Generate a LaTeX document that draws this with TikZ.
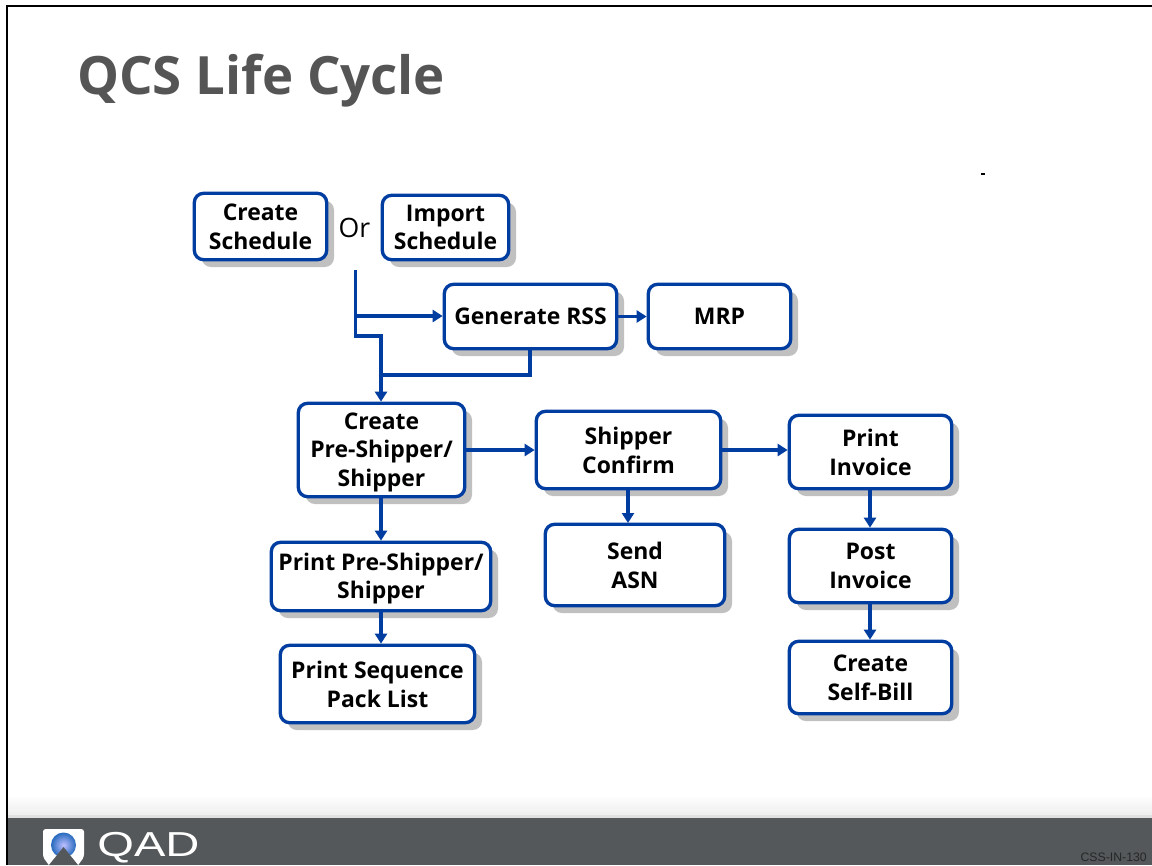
\documentclass[tikz,border=0pt]{standalone}
\usepackage{fontspec}
\setmainfont{Open Sans}
\newfontfamily\codefont{Liberation Sans}
\usetikzlibrary{shadows,arrows.meta}
\definecolor{qblue}{HTML}{003DA0}
\definecolor{qbar}{HTML}{54585A}
\definecolor{qshadow}{HTML}{C0C0C0}
\definecolor{qtitle}{HTML}{555555}
\tikzset{
  flowbox/.style={draw=qblue,fill=white,line width=2.5pt,rounded corners=7pt,align=center,
    inner sep=0pt,outer sep=1.25pt,text=black,
    font=\fontsize{17.2}{21.6}\selectfont\bfseries,
    drop shadow={shadow xshift=5.5pt,shadow yshift=-5.5pt,fill=qshadow,opacity=1}},
  flowline/.style={draw=qblue,line width=2.6pt},
  flowarrow/.style={flowline,-{Triangle[length=7.5pt,width=9pt]}},
}
\newcommand{\fbx}[6]{% name, x0, y0, x1, y1, text
  \node[flowbox,minimum width={(#4-#2-2.6)*0.75pt},minimum height={(#5-#3-2.6)*0.75pt}] (#1)
    at ({(#2+#4)/2},{(#3+#5)/2}) {#6};}
\begin{document}
\begin{tikzpicture}[x=0.75pt,y=-0.75pt]
\useasboundingbox (0,0) rectangle (1152,865);
\fill[white] (0,0) rectangle (1152,865);
% footer
\shade[top color=white,bottom color=black!7] (8,795) rectangle (1152,815);
\fill[black!12] (8,815) rectangle (1152,817.5);
\fill[qbar] (8,817.5) rectangle (1152,865);
% frame
\draw[black,line width=1.6pt] (7,865) -- (7,6) -- (1152,6);
% title
\node[anchor=base west,inner sep=0pt,text=qtitle,font=\fontsize{39.6}{44}\selectfont\bfseries] (title) at (77,94) {QCS Life Cycle};
% stray tick
\fill[black] (981,173) rectangle (985,174.5);
% logo
\begin{scope}
\clip (0,780) rectangle (1152,865);
\fill[white,rounded corners=2pt] (43,829) -- (84,829) -- (84,857) -- (76,868) -- (51,868) -- (43,857) -- cycle;
\shade[inner color=blue!25!white,outer color=blue!55!cyan!70!black!85] (63.5,845) circle (12.5);
\fill[qbar] (63.5,847) -- (78,865) -- (49,865) -- cycle;
\end{scope}
\node[anchor=west,inner sep=0pt,text=white,font=\codefont\fontsize{26}{30}\selectfont,xscale=1.36] (qad) at (97,847.5) {QAD};
\node[anchor=east,inner sep=0pt,text=black!85,font=\codefont\fontsize{9.2}{11}\selectfont] (code) at (1147,857) {CSS-IN-130};
% boxes
\fbx{create}{193}{192}{328}{261}{Create\\Schedule}
\fbx{import}{381}{194}{510}{261}{Import\\Schedule}
\fbx{rss}{443}{283}{618}{350}{Generate RSS}
\fbx{mrp}{647}{283}{792}{350}{MRP}
\fbx{pre}{297}{402}{466}{498}{\rule{0pt}{16pt}Create\\Pre-Shipper/\\Shipper}
\fbx{confirm}{535}{410}{722}{490}{Shipper\\Confirm}
\fbx{invoice}{788}{414}{953}{490}{Print\\Invoice}
\fbx{asn}{544}{523}{726}{607}{Send\\ASN}
\fbx{printpre}{270}{541}{492}{612}{\rule{0pt}{16pt}Print Pre-Shipper/\\Shipper}
\fbx{post}{788}{528}{953}{604}{Post\\Invoice}
\fbx{seq}{279}{644}{476}{724}{Print Sequence\\Pack List}
\fbx{bill}{788}{640}{953}{715}{Create\\Self-Bill}
\node[anchor=center,inner sep=0pt,font=\fontsize{20}{24}\selectfont] (or) at (354.5,228) {Or};
% connectors
\coordinate (start) at (355.5,270);
\coordinate (jog) at (355.5,336);
\coordinate (jog2) at (381,336);
\coordinate (branch) at (355.5,316);
\coordinate (merge) at (381,375);
\draw[flowline,line join=miter] (start) -- (jog) -- (jog2) -- (merge);
\draw[flowarrow] (branch) -- (branch -| rss.west);
\draw[flowarrow] (jog2) -- (jog2 |- pre.north);
\draw[flowline] (rss.south -| 530,0) -- (530,375) -- (merge);
\draw[flowarrow] (rss.east) -- (mrp.west);
\draw[flowarrow] (pre.east |- 0,450) -- (confirm.west |- 0,450);
\draw[flowarrow] (confirm.east |- 0,450) -- (invoice.west |- 0,450);
\draw[flowarrow] (628,490) -- (628,523);
\draw[flowarrow] (invoice.south -| 870,0) -- (post.north -| 870,0);
\draw[flowarrow] (post.south -| 870,0) -- (bill.north -| 870,0);
\draw[flowarrow] (pre.south -| 381,0) -- (printpre.north -| 381,0);
\draw[flowarrow] (printpre.south -| 381,0) -- (seq.north -| 381,0);
\end{tikzpicture}
\end{document}
